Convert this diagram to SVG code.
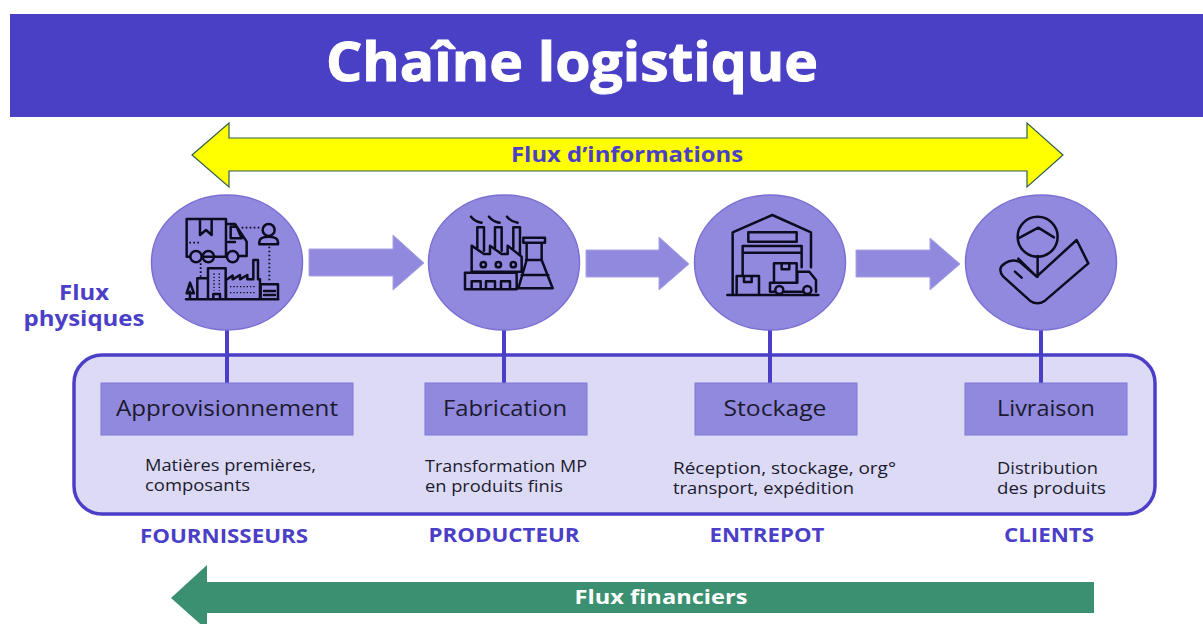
<svg xmlns="http://www.w3.org/2000/svg" width="1203" height="624" viewBox="0 0 1203 624">
<style>
text{font-family:"Open Sans","Liberation Sans",sans-serif}
.c{fill:#9189dd;stroke:#7a70d4;stroke-width:1.5}
.b{fill:#9189dd;stroke:#7f76d8;stroke-width:1}
.fa{fill:#9189dd;stroke:#a8a2e6;stroke-width:1}
.ln{stroke:#4b3fc8;stroke-width:4;fill:none}
.ic{fill:none;stroke:#0d0b20;stroke-width:7.5;stroke-linejoin:round;stroke-linecap:round}
.dot{fill:none;stroke:#0d0b20;stroke-width:5.5;stroke-dasharray:5 7}
.lbl{font-size:21.5px;fill:#1b1a2e;text-anchor:middle}
.sub{font-size:16px;fill:#1b1a2e}
.cap{font-size:19px;font-weight:700;fill:#4b3fc8;text-anchor:middle}
</style>
<rect width="1203" height="624" fill="#fff"/>
<g id="header"><rect x="10" y="14" width="1193" height="103" fill="#4a40c6"/>
<text x="572" y="81" font-size="54" font-weight="700" fill="#fff" stroke="#fff" stroke-width="1" text-anchor="middle" textLength="492" lengthAdjust="spacingAndGlyphs">Chaîne logistique</text></g>
<g id="flux-informations"><polygon points="192,155 229,123 229,138 1027,138 1027,123 1063,155 1027,187 1027,171 229,171 229,187" fill="#ffff00" stroke="#2f5d50" stroke-width="1.2"/>
<text x="627" y="162" font-size="21" font-weight="700" fill="#4b3fc8" text-anchor="middle" textLength="232" lengthAdjust="spacingAndGlyphs">Flux d’informations</text></g>
<g id="flux-physiques"><text x="84" y="300" font-size="21" font-weight="700" fill="#4b3fc8" text-anchor="middle" textLength="50" lengthAdjust="spacingAndGlyphs">Flux</text><text x="84" y="326" font-size="21" font-weight="700" fill="#4b3fc8" text-anchor="middle" textLength="121" lengthAdjust="spacingAndGlyphs">physiques</text></g>
<g id="panel"><rect x="74" y="355" width="1081" height="159" rx="28" fill="#dcdaf5" stroke="#4b3fc8" stroke-width="3.5"/></g>
<g id="connectors">
<path class="ln" d="M227 330V383M504 330V383M770 330V383M1041 330V383"/>
<polygon class="fa" points="309,249 393,249 393,235 424,263 393,290 393,276 309,276"/>
<polygon class="fa" points="586,250 659,250 659,237 689,264 659,290 659,277 586,277"/>
<polygon class="fa" points="856,250 930,250 930,238 960,264 930,290 930,277 856,277"/>
</g>
<g id="node-approvisionnement">
<ellipse class="c" cx="227" cy="262.5" rx="75.5" ry="67.5"/>
<g transform="translate(140 180) scale(.3333)">
<path class="ic" d="M150 230H140V117H258V230H188M222 230H258M258 132H285L320 185V228H297M272 140H290L305 175H272ZM180 117V165L198 150L215 165V117M265 186H285"/>
<circle class="ic" cx="168" cy="230" r="17"/><circle class="ic" cx="205" cy="230" r="17"/><circle class="ic" cx="278" cy="230" r="17"/>
<path class="dot" d="M148 188H180M305 143H360M388 200V305M182 250V290"/>
<circle class="ic" cx="386" cy="150" r="18"/><path class="ic" d="M358 193V186Q358 170 385 170Q414 170 414 186V193Z"/>
<path class="ic" d="M138 358H415M150 358V335M150 308L162 340H140ZM172 358V295H204M204 358V265H257V358M220 358V342H240V358M258 358V300L278 287V298L300 285V298L322 285V298H340V240H354V298H360V358M362 358V313H414V358M372 333H405M372 345H405"/>
<path class="dot" style="stroke-width:4;stroke-dasharray:4 6" d="M222 280V332M238 280V332M270 320H350M270 338H350"/>
</g>
<rect class="b" x="101" y="383" width="252" height="52"/>
<text class="lbl" x="227" y="416" textLength="222" lengthAdjust="spacingAndGlyphs">Approvisionnement</text>
<text class="sub" x="145" y="471" textLength="171" lengthAdjust="spacingAndGlyphs">Matières premières,</text><text class="sub" x="145" y="491" textLength="105" lengthAdjust="spacingAndGlyphs">composants</text>
<text class="cap" x="224" y="543" textLength="168" lengthAdjust="spacingAndGlyphs">FOURNISSEURS</text>
</g>
<g id="node-fabrication">
<ellipse class="c" cx="504" cy="262.5" rx="75.5" ry="67.5"/>
<g transform="translate(420 180) scale(.3333)">
<path class="ic" d="M153 110Q165 125 185 128M207 110Q219 125 239 128M261 110Q273 125 293 128M172 205V142H192V212M225 205V142H245V212M280 205V142H300V225M155 235V197L192 222L210 222V197L245 222L263 222V197L305 230V275H155V235M135 328V278H290V328ZM155 328V304H182V328M198 328V304H225V328M243 328V304H270V328M310 173H375V188H310ZM320 188V240L295 325H398L365 240V188M318 240H365M305 285H385"/>
<circle class="ic" cx="190" cy="254" r="8"/><circle class="ic" cx="235" cy="254" r="8"/><circle class="ic" cx="280" cy="254" r="8"/>
</g>
<rect class="b" x="425" y="383" width="162" height="52"/>
<text class="lbl" x="505" y="416" textLength="124" lengthAdjust="spacingAndGlyphs">Fabrication</text>
<text class="sub" x="425" y="472" textLength="162" lengthAdjust="spacingAndGlyphs">Transformation MP</text><text class="sub" x="425" y="492" textLength="138" lengthAdjust="spacingAndGlyphs">en produits finis</text>
<text class="cap" x="504" y="542" textLength="151" lengthAdjust="spacingAndGlyphs">PRODUCTEUR</text>
</g>
<g id="node-stockage">
<ellipse class="c" cx="770" cy="262.5" rx="75.5" ry="67.5"/>
<g transform="translate(690 180) scale(.3333)">
<path class="ic" d="M128 345V157L247 105L363 157V262M175 157H320V185H175ZM158 198H335V218H158ZM158 218V288M335 218V262M112 345H385M140 345V288H207V345M162 288V306H185V288M252 305V250H320V305M275 250V268H298V250M240 335V308H322M322 308V275H358L378 300V335M282 335H338M240 335H254"/>
<circle class="ic" cx="268" cy="330" r="12"/><circle class="ic" cx="352" cy="330" r="12"/>
</g>
<rect class="b" x="695" y="383" width="162" height="52"/>
<text class="lbl" x="775" y="416" textLength="103" lengthAdjust="spacingAndGlyphs">Stockage</text>
<text class="sub" x="673" y="474" textLength="223" lengthAdjust="spacingAndGlyphs">Réception, stockage, org°</text><text class="sub" x="673" y="494" textLength="181" lengthAdjust="spacingAndGlyphs">transport, expédition</text>
<text class="cap" x="767" y="542" textLength="115" lengthAdjust="spacingAndGlyphs">ENTREPOT</text>
</g>
<g id="node-livraison">
<ellipse class="c" cx="1041" cy="262.5" rx="75.5" ry="67.5"/>
<g transform="translate(690 180) scale(.3333)">
<circle class="ic" cx="1043" cy="170" r="60"/>
<path class="ic" d="M985 175L1045 143L1092 172M1160 180L1195 250L1065 362Q1042 378 1020 362L940 290Q920 265 945 250Q965 235 990 246L1040 290ZM985 236L1040 290M1100 235L1040 290M1043 228V290M975 275L995 293" />
</g>
<rect class="b" x="965" y="383" width="162" height="52"/>
<text class="lbl" x="1046" y="416" textLength="98" lengthAdjust="spacingAndGlyphs">Livraison</text>
<text class="sub" x="997" y="474" textLength="101" lengthAdjust="spacingAndGlyphs">Distribution</text><text class="sub" x="997" y="494" textLength="109" lengthAdjust="spacingAndGlyphs">des produits</text>
<text class="cap" x="1049" y="542" textLength="90" lengthAdjust="spacingAndGlyphs">CLIENTS</text>
</g>
<g id="flux-financiers"><polygon points="171,598 207,565 207,582 1094,582 1094,613 207,613 207,630" fill="#3a9070"/>
<text x="661" y="604" font-size="20" font-weight="700" fill="#fff" text-anchor="middle" textLength="173" lengthAdjust="spacingAndGlyphs">Flux financiers</text></g>
</svg>
